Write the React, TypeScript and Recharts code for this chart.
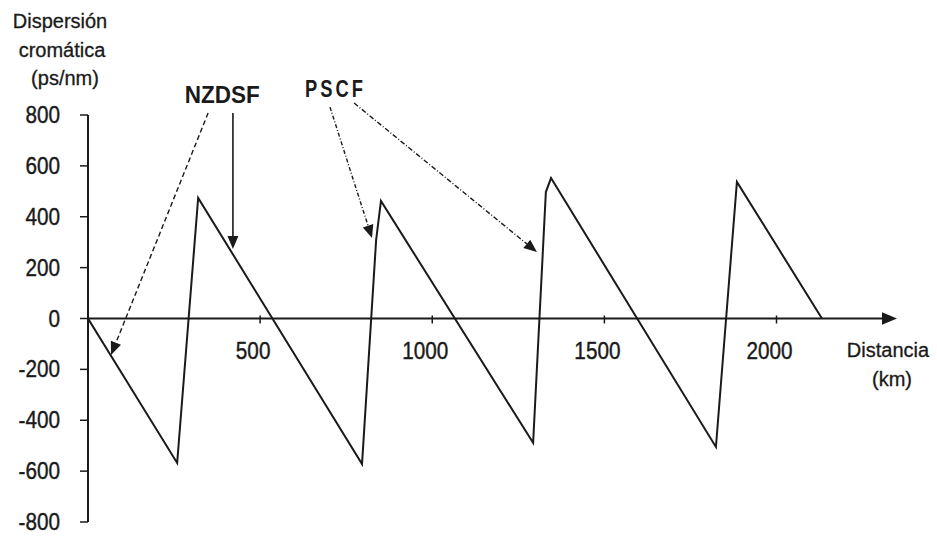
import React from 'react';
import { LineChart, Line, XAxis, YAxis, ReferenceLine, ReferenceDot } from 'recharts';

// Dispersion map (sawtooth): distance in km, chromatic dispersion in ps/nm
const distanceKm = [0, 259, 320, 796, 837, 851, 1293, 1330, 1345, 1824, 1885, 2132];
const dispersionPsNm = [0, -568, 474, -572, 309, 462, -489, 497, 552, -505, 537, 0];

const yTicks = [-800, -600, -400, -200, 0, 200, 400, 600, 800];
const xTicks = [500, 1000, 1500, 2000];
const xDomain = [0, 2350];
const yDomain = [-800, 800];

// Annotation arrows (data units)
const arrowFromKm = [421, 349, 703, 773];
const arrowFromPs = [808, 808, 831, 847];
const arrowToKm = [421, 67, 825, 1304];
const arrowToPs = [273, -143, 316, 261];
const arrowDash = ['', '5 3', '4 2 1 2', '5 2 1 2'];

// Annotation labels
const noteText = ['NZDSF', 'PSCF'];
const noteKm = [390, 719];
const notePs = [847, 871];

const yTitle = ['Dispersión', 'cromática', '(ps/nm)'];
const xTitle = ['Distancia', '(km)'];

const data = distanceKm.map((x, i) => ({ x, d: dispersionPsNm[i] }));

const FONT = '"Liberation Sans", Arial, sans-serif';
const INK = '#1a1a1a';

const makeArrow = (dash: string, width: number, head: number) => (p: any) => {
  const { x1, y1, x2, y2 } = p;
  const ang = Math.atan2(y2 - y1, x2 - x1);
  const L = head;
  const W = head * 0.42;
  const bx = x2 - L * Math.cos(ang);
  const by = y2 - L * Math.sin(ang);
  const px = -Math.sin(ang) * W;
  const py = Math.cos(ang) * W;
  return (
    <g>
      <line x1={x1} y1={y1} x2={bx} y2={by} stroke={INK} strokeWidth={width} strokeDasharray={dash || undefined} />
      <polygon points={`${x2},${y2} ${bx + px},${by + py} ${bx - px},${by - py}`} fill={INK} />
    </g>
  );
};

const NumText = ({ x, y, anchor, children }: any) => (
  <g transform={`translate(${x},${y}) scale(0.9,1)`}>
    <text x={0} y={0} textAnchor={anchor} fontFamily={FONT} fontSize={23} fill={INK} stroke={INK} strokeWidth={0.4}>
      {children}
    </text>
  </g>
);

const yTick = (p: any) => {
  const { x, y, payload } = p;
  return <NumText x={x} y={y + 8} anchor="end">{payload.value}</NumText>;
};

const xTickShape = (label: number) => (p: any) => {
  const { cx, cy } = p;
  return (
    <g>
      <line x1={cx} y1={cy - 3} x2={cx} y2={cy + 5} stroke={INK} strokeWidth={1.5} />
      <NumText x={cx - 7} y={cy + 40} anchor="middle">{label}</NumText>
    </g>
  );
};

const xTitleShape = (p: any) => {
  const { cx, cy } = p;
  return (
    <g fontFamily={FONT} fontSize={20} fill={INK} stroke={INK} strokeWidth={0.3}>
      <text x={cx - 9} y={cy + 38} textAnchor="middle">{xTitle[0]}</text>
      <text x={cx - 5} y={cy + 67} textAnchor="middle">{xTitle[1]}</text>
    </g>
  );
};

const noteShape = (i: number) => (p: any) => {
  const { cx, cy } = p;
  return i === 0 ? (
    <text x={cx} y={cy} textAnchor="middle" fontFamily={FONT} fontWeight="bold" fontSize={24} fill={INK}
      textLength={75} lengthAdjust="spacingAndGlyphs">
      {noteText[i]}
    </text>
  ) : (
    <text x={cx} y={cy} textAnchor="middle" fontFamily={FONT} fontWeight="bold" fontSize={24} fill={INK}
      letterSpacing={4} textLength={61} lengthAdjust="spacingAndGlyphs">
      {noteText[i]}
    </text>
  );
};

const yTitleContent = (p: any) => {
  const vb = p.viewBox;
  return (
    <g fontFamily={FONT} fontSize={20} fill={INK} stroke={INK} strokeWidth={0.3}>
      <text x={vb.x + 60} y={vb.y - 87} textAnchor="middle">{yTitle[0]}</text>
      <text x={vb.x + 62} y={vb.y - 58} textAnchor="middle">{yTitle[1]}</text>
      <text x={vb.x + 65} y={vb.y - 30} textAnchor="middle">{yTitle[2]}</text>
    </g>
  );
};

export default function App() {
  return (
    <div style={{ position: 'absolute', left: 0, top: 0, background: '#fff' }}>
      <LineChart width={937} height={536} data={data} margin={{ top: 115, right: 40, bottom: 14, left: 0 }}>
        <XAxis type="number" dataKey="x" domain={xDomain} hide allowDataOverflow />
        <YAxis
          type="number"
          domain={yDomain}
          ticks={yTicks}
          width={88}
          interval={0}
          tickSize={8}
          tickMargin={20}
          axisLine={{ stroke: INK, strokeWidth: 2 }}
          tickLine={{ stroke: INK, strokeWidth: 1.5 }}
          tick={yTick}
          label={{ content: yTitleContent }}
        />
        <ReferenceLine
          segment={[{ x: xDomain[0], y: 0 }, { x: xDomain[1], y: 0 }]}
          shape={makeArrow('', 2, 15)}
          ifOverflow="visible"
        />
        {xTicks.map((t) => (
          <ReferenceDot key={t} x={t} y={0} r={0} ifOverflow="visible" shape={xTickShape(t)} />
        ))}
        <ReferenceDot x={xDomain[1]} y={0} r={0} ifOverflow="visible" shape={xTitleShape} />
        <Line type="linear" dataKey="d" stroke={INK} strokeWidth={2} dot={false} isAnimationActive={false} />
        {arrowFromKm.map((x, i) => (
          <ReferenceLine
            key={i}
            segment={[{ x, y: arrowFromPs[i] }, { x: arrowToKm[i], y: arrowToPs[i] }]}
            shape={makeArrow(arrowDash[i], i === 0 ? 1.6 : 1.4, 13)}
            ifOverflow="visible"
          />
        ))}
        {noteText.map((t, i) => (
          <ReferenceDot key={t} x={noteKm[i]} y={notePs[i]} r={0} ifOverflow="visible" shape={noteShape(i)} />
        ))}
      </LineChart>
    </div>
  );
}
